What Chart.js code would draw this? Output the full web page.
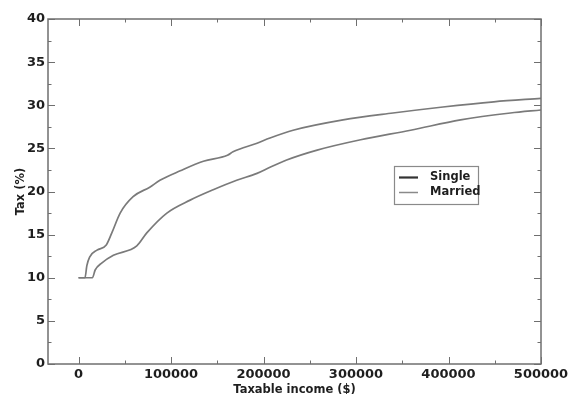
<!DOCTYPE html>
<html>
<head>
<meta charset="utf-8">
<script src="https://cdn.jsdelivr.net/npm/chart.js@4/dist/chart.umd.min.js"></script>
<style>
  html, body { margin: 0; padding: 0; background: #fff; }
  #wrap { width: 576px; height: 394px; }
</style>
</head>
<body>
<div id="wrap"><canvas id="c" width="576" height="394"></canvas></div>
<script>
// ---- data ----
const singleIncome = [0, 7000, 9000, 12000, 20000, 30000, 36000, 45000, 59000, 77000, 88000, 110000, 135000, 161000, 167000, 193000, 207000, 232000, 286000, 340000, 394000, 449000, 500000];
const singleTax    = [10, 10, 11.4, 12.4, 13.2, 13.8, 15.2, 17.5, 19.4, 20.5, 21.3, 22.4, 23.5, 24.2, 24.6, 25.6, 26.2, 27.1, 28.3, 29.1, 29.8, 30.4, 30.8];
const marriedIncome = [0, 15000, 18000, 25000, 37700, 63000, 73800, 95500, 120700, 145600, 171000, 193000, 207000, 225000, 258000, 305000, 359000, 413000, 467000, 500000];
const marriedTax    = [10, 10, 10.9, 11.7, 12.6, 13.7, 15.2, 17.5, 19.0, 20.2, 21.3, 22.1, 22.8, 23.65, 24.8, 26.0, 27.1, 28.3, 29.1, 29.45];
const seriesNames = ['Single', 'Married'];
const xTicks = [0, 100000, 200000, 300000, 400000, 500000];
const yTicks = [0, 5, 10, 15, 20, 25, 30, 35, 40];
const xMinorStep = 50000;
const yMinorStep = 2.5;

const toPts = (xs, ys) => xs.map((x, i) => ({ x: x, y: ys[i] }));

const FRAME = '#6f6f6f';
const TEXT = '#1e1e1e';

const framePlugin = {
  id: 'frame',
  afterDraw(chart) {
    const ctx = chart.ctx;
    const { left, right, top, bottom } = chart.chartArea;
    const xs = chart.scales.x, ys = chart.scales.y;
    ctx.save();
    ctx.strokeStyle = FRAME;
    ctx.lineWidth = 1.5;
    ctx.strokeRect(left, top, right - left, bottom - top);
    ctx.lineWidth = 1;
    const tickX = (v, len) => {
      const p = Math.round(xs.getPixelForValue(v)) + 0.5;
      ctx.beginPath(); ctx.moveTo(p, bottom); ctx.lineTo(p, bottom - len); ctx.stroke();
      ctx.beginPath(); ctx.moveTo(p, top); ctx.lineTo(p, top + len); ctx.stroke();
    };
    const tickY = (v, len) => {
      const p = Math.round(ys.getPixelForValue(v)) + 0.5;
      ctx.beginPath(); ctx.moveTo(left, p); ctx.lineTo(left + len, p); ctx.stroke();
      ctx.beginPath(); ctx.moveTo(right, p); ctx.lineTo(right - len, p); ctx.stroke();
    };
    xTicks.forEach(v => tickX(v, 7));
    for (let i = 0; i < xTicks.length - 1; i++) tickX(xTicks[i] + xMinorStep, 3.5);
    yTicks.forEach(v => tickY(v, 7));
    for (let i = 0; i < yTicks.length - 1; i++) tickY(yTicks[i] + yMinorStep, 3.5);

    // legend
    const lx = 394, ly = 166, lw = 84, lh = 38;
    ctx.fillStyle = '#fff';
    ctx.fillRect(lx, ly, lw, lh);
    ctx.strokeStyle = '#8a8a8a';
    ctx.lineWidth = 1.2;
    ctx.strokeRect(lx + 0.5, ly + 0.5, lw, lh);
    ctx.font = 'bold 11.5px "DejaVu Sans"';
    ctx.textBaseline = 'middle';
    ctx.textAlign = 'left';
    chart.data.datasets.forEach((ds, i) => {
      const yy = ly + 11.5 + i * 15;
      ctx.strokeStyle = ds.legendColor;
      ctx.lineWidth = ds.legendWidth;
      ctx.beginPath(); ctx.moveTo(lx + 5, yy); ctx.lineTo(lx + 24, yy); ctx.stroke();
      ctx.fillStyle = TEXT;
      ctx.fillText(ds.label, lx + 36, yy);
    });
    ctx.restore();
  }
};

new Chart(document.getElementById('c'), {
  type: 'scatter',
  data: {
    datasets: [
      { label: seriesNames[0], data: toPts(singleIncome, singleTax), showLine: true, borderColor: '#7a7a7a', borderWidth: 1.7, pointRadius: 0, cubicInterpolationMode: 'monotone', legendColor: '#333', legendWidth: 2.2 },
      { label: seriesNames[1], data: toPts(marriedIncome, marriedTax), showLine: true, borderColor: '#7a7a7a', borderWidth: 1.7, pointRadius: 0, cubicInterpolationMode: 'monotone', legendColor: '#8a8a8a', legendWidth: 1.5 }
    ]
  },
  options: {
    responsive: false,
    animation: false,
    events: [],
    layout: { padding: { top: 19, right: 35, left: 0, bottom: 0 } },
    plugins: { legend: { display: false }, tooltip: { enabled: false } },
    scales: {
      x: {
        type: 'linear', min: -33000, max: 500000,
        afterBuildTicks: s => { s.ticks = xTicks.map(v => ({ value: v })); },
        afterFit: s => { s.height = 30; },
        grid: { display: false, drawTicks: false },
        border: { display: false },
        ticks: { color: TEXT, font: { family: 'DejaVu Sans', size: 13, weight: 'bold' }, padding: 3, maxRotation: 0, autoSkip: false, callback: v => String(v) },
        title: { display: true, text: 'Taxable income ($)', color: TEXT, font: { family: 'DejaVu Sans', size: 11.5, weight: 'bold' }, padding: { top: 0, bottom: -3 } }
      },
      y: {
        type: 'linear', min: 0, max: 40,
        afterBuildTicks: s => { s.ticks = yTicks.map(v => ({ value: v })); },
        afterFit: s => { s.width = 48; },
        grid: { display: false, drawTicks: false },
        border: { display: false },
        ticks: { color: TEXT, font: { family: 'DejaVu Sans', size: 13, weight: 'bold' }, padding: 3, autoSkip: false, callback: v => String(v) },
        title: { display: true, text: 'Tax (%)', color: TEXT, font: { family: 'DejaVu Sans', size: 11.5, weight: 'bold' }, padding: { top: 14, bottom: 0 } }
      }
    }
  },
  plugins: [framePlugin]
});
</script>
</body>
</html>
